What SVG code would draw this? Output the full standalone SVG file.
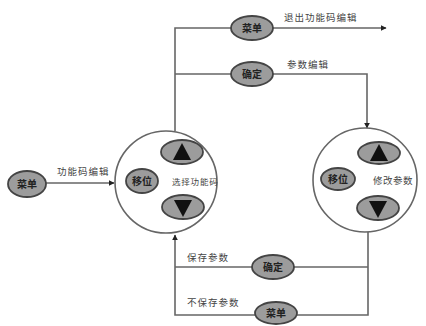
<svg xmlns="http://www.w3.org/2000/svg" width="426" height="326" viewBox="0 0 426 326">
<style>
.bg{fill:#ffffff}
.line{fill:none;stroke:#666;stroke-width:1.6}
.circ{fill:#ffffff;stroke:#666;stroke-width:1.6}
.btn{fill:#9c9c9c;stroke:#444;stroke-width:1.8}
.btxt{font-family:"Noto Sans CJK SC","Liberation Sans",sans-serif;font-size:10px;fill:#222;text-anchor:middle;font-weight:bold}
.lbl{font-family:"Noto Sans CJK SC","Liberation Sans",sans-serif;font-size:9.5px;fill:#444;letter-spacing:1px}
.tri{fill:#111}
</style>
<defs>
<marker id="arr" viewBox="0 0 10 10" refX="9" refY="5" markerWidth="6" markerHeight="6" orient="auto" markerUnits="userSpaceOnUse">
<path d="M0,0 L10,5 L0,10 z" fill="#222"/>
</marker>
</defs>
<rect class="bg" x="0" y="0" width="426" height="326"/>
<g id="connectors">
<path class="line" d="M46,183 L114,183" marker-end="url(#arr)"/>
<path class="line" d="M175,131 L175,28 L386,28" marker-end="url(#arr)"/>
<path class="line" d="M175,74 L367,74 L367,128" marker-end="url(#arr)"/>
<path class="line" d="M368,232 L368,315 L175,315 L175,235" marker-end="url(#arr)"/>
<path class="line" d="M175,267 L368,267"/>
<text class="lbl" x="57" y="175">功能码编辑</text>
<text class="lbl" x="284" y="21">退出功能码编辑</text>
<text class="lbl" x="287" y="68">参数编辑</text>
<text class="lbl" x="187" y="261">保存参数</text>
<text class="lbl" x="187" y="306">不保存参数</text>
</g>
<g id="menu-left">
<ellipse class="btn" cx="27" cy="184" rx="19" ry="13"/>
<text class="btxt" x="27" y="188">菜单</text>
</g>
<g id="menu-top">
<ellipse class="btn" cx="252" cy="28" rx="21" ry="12"/>
<text class="btxt" x="252" y="32">菜单</text>
</g>
<g id="confirm-top">
<ellipse class="btn" cx="252" cy="74" rx="21" ry="12"/>
<text class="btxt" x="252" y="78">确定</text>
</g>
<g id="panel-left">
<circle class="circ" cx="166" cy="182" r="51"/>
<ellipse class="btn" cx="182" cy="152" rx="21" ry="12"/>
<path class="tri" d="M182,143 L191,160 L173,160 z"/>
<ellipse class="btn" cx="142" cy="181" rx="16" ry="12"/>
<text class="btxt" x="142" y="185">移位</text>
<ellipse class="btn" cx="183" cy="207" rx="21" ry="12"/>
<path class="tri" d="M174,200 L192,200 L183,217 z"/>
<text class="lbl" x="172" y="185" style="font-size:8.5px;letter-spacing:0.8px">选择功能码</text>
</g>
<g id="panel-right">
<circle class="circ" cx="365" cy="180" r="52"/>
<ellipse class="btn" cx="379" cy="153" rx="21" ry="11"/>
<path class="tri" d="M379,144 L388,161 L370,161 z"/>
<ellipse class="btn" cx="338" cy="179" rx="17" ry="11"/>
<text class="btxt" x="338" y="183">移位</text>
<ellipse class="btn" cx="378" cy="208" rx="21" ry="12"/>
<path class="tri" d="M369,201 L387,201 L378,218 z"/>
<text class="lbl" x="373" y="184" style="letter-spacing:0.5px">修改参数</text>
</g>
<g id="confirm-bottom">
<ellipse class="btn" cx="273" cy="267" rx="21" ry="12"/>
<text class="btxt" x="273" y="271">确定</text>
</g>
<g id="menu-bottom">
<ellipse class="btn" cx="276" cy="313" rx="21" ry="11"/>
<text class="btxt" x="276" y="317">菜单</text>
</g>
</svg>
